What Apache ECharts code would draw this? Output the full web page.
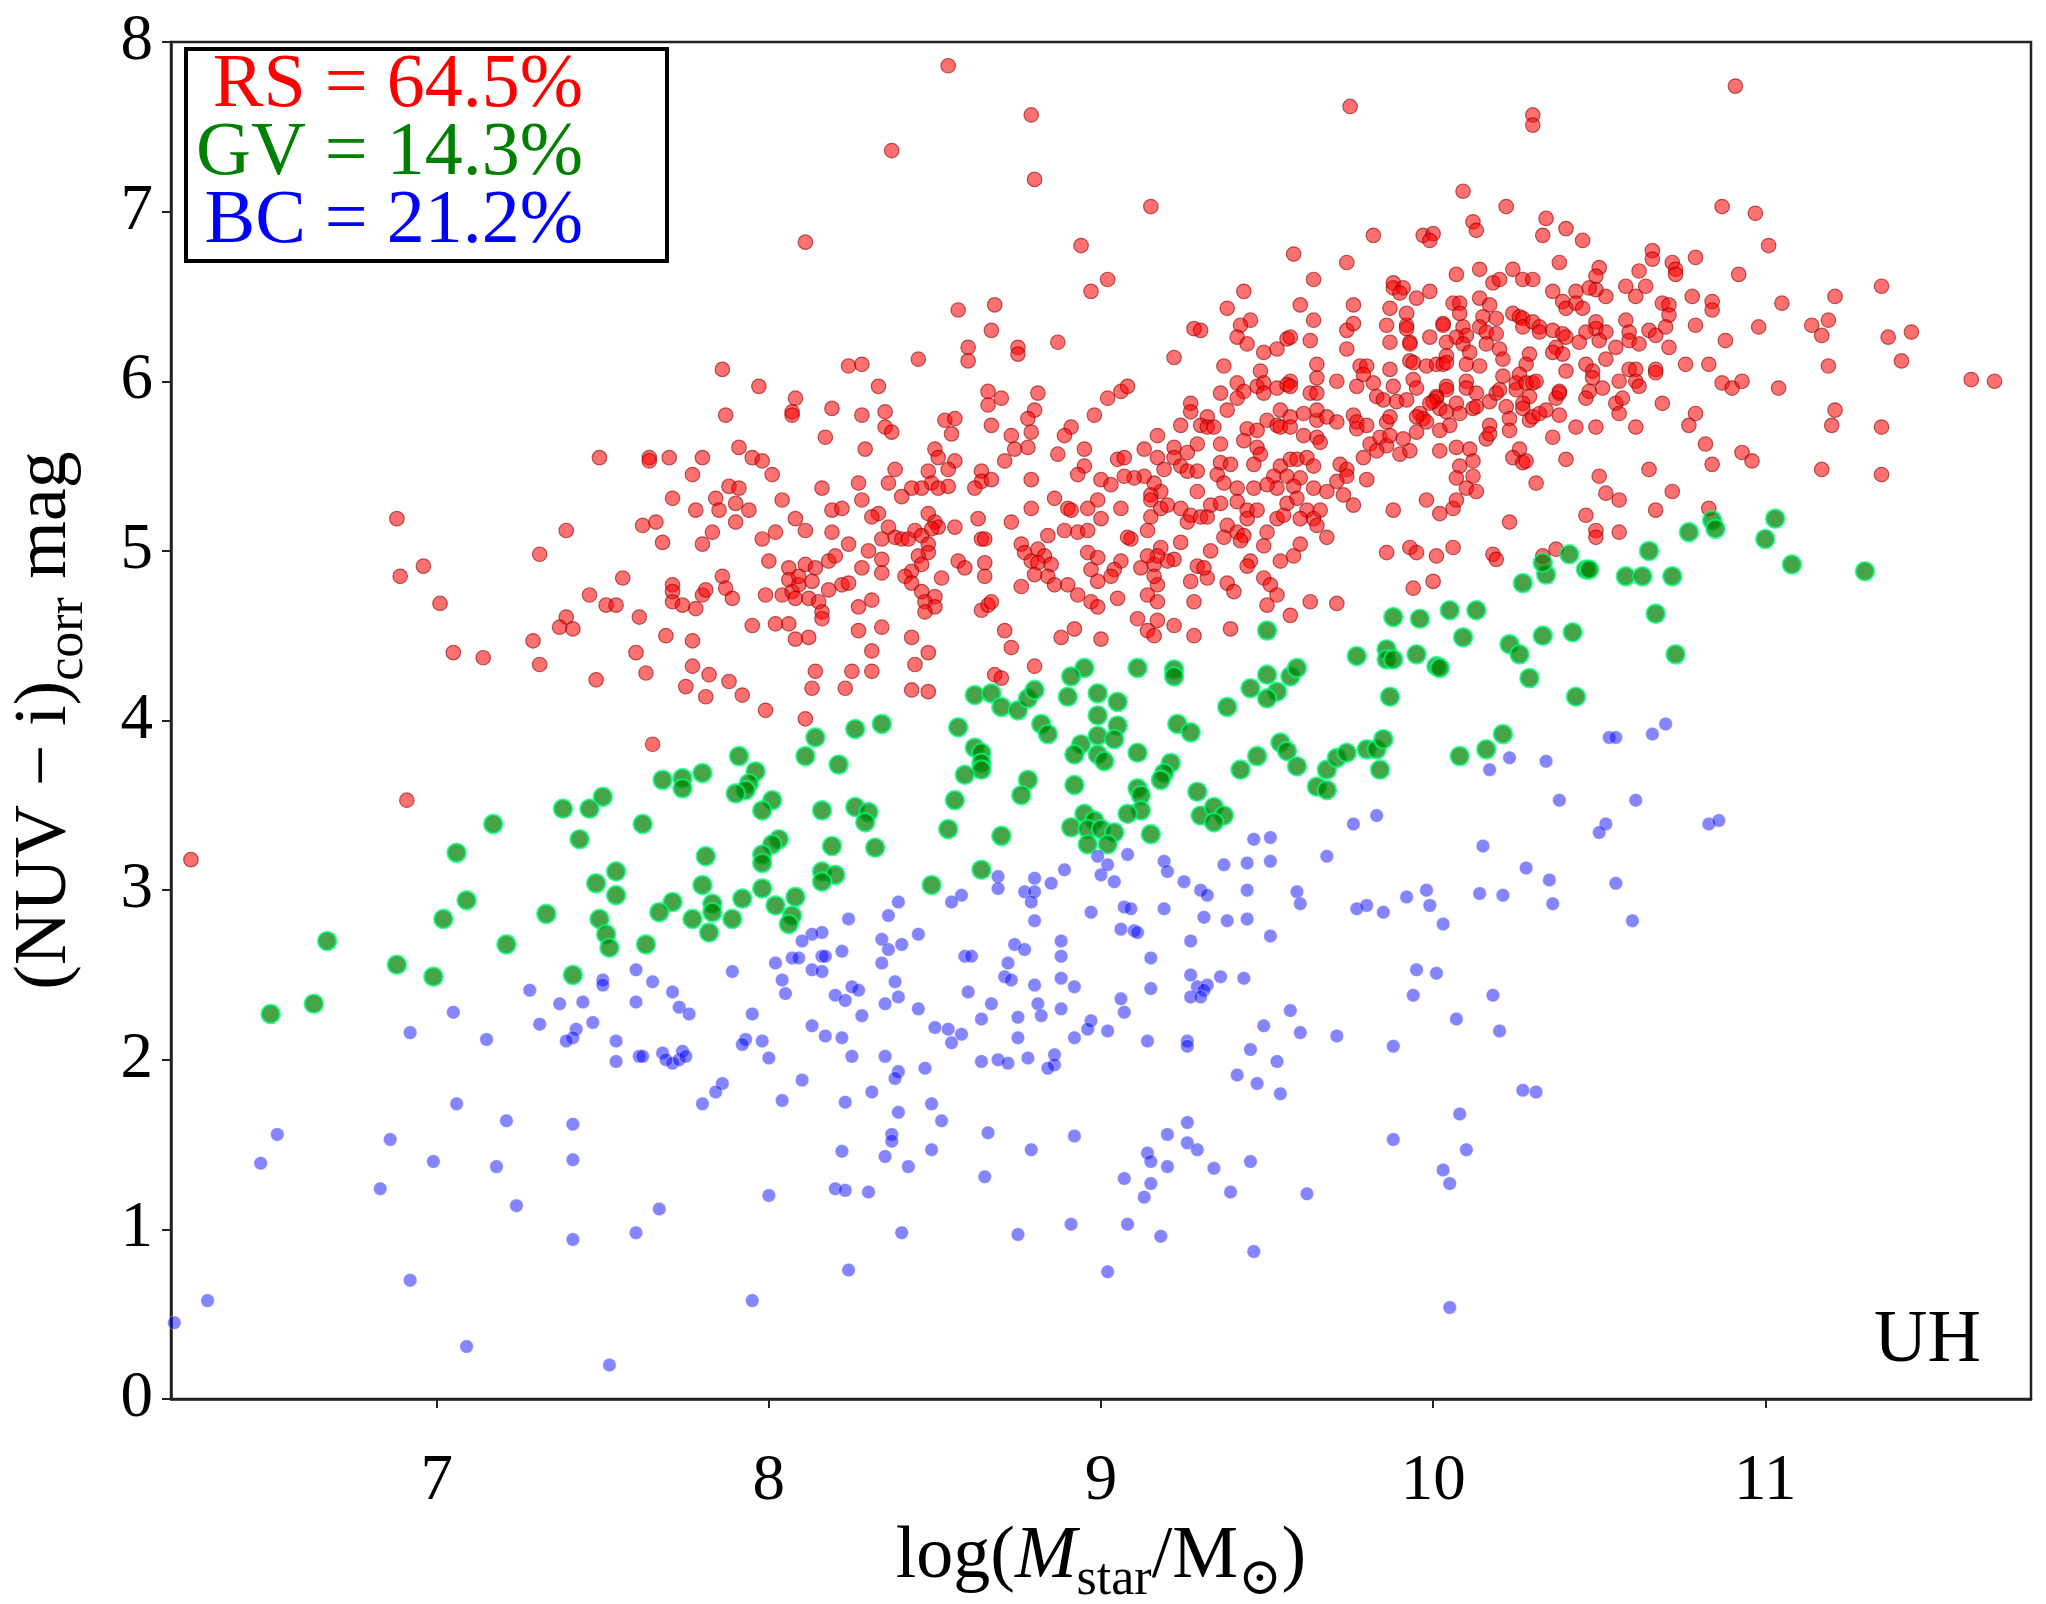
<!DOCTYPE html>
<html><head><meta charset="utf-8">
<script src="https://cdn.jsdelivr.net/npm/echarts@6/dist/echarts.min.js"></script>
<style>html,body{margin:0;padding:0;background:#fff;} #c{width:2046px;height:1604px;}</style>
</head><body><div id="c"></div>
<script>
const xTicks=[7,8,9,10,11];
const yTicks=[0,1,2,3,4,5,6,7,8];
const legendLines=['RS = 64.5%','GV = 14.3%','BC = 21.2%'];
const cornerLabel='UH';

const rsPoints=[
[7.49,5.55],
[8.54,7.86],[8.79,7.57],[8.37,7.36],[8.80,7.19],[8.11,6.82],[8.94,6.80],[8.97,6.53],[8.57,6.42],[8.68,6.45],[8.67,6.30],[8.60,6.20],[8.60,6.12],[8.75,6.20],[8.75,6.16],[8.45,6.13],[8.87,6.23],[8.24,6.09],[8.28,6.10],[7.86,6.07],[7.97,5.97],[7.87,5.80],[8.08,5.90],[8.07,5.82],[8.07,5.80],[8.19,5.84],[8.33,5.97],[8.35,5.82],[8.28,5.80],[8.35,5.73],[8.37,5.70],[8.17,5.67],[8.29,5.60],[8.53,5.77],[8.56,5.78],[8.55,5.69],[8.66,5.94],[8.70,5.90],[8.66,5.86],[8.67,5.74],[8.81,5.93],[8.80,5.83],[8.78,5.78],[8.79,5.70],[8.73,5.68],[8.74,5.60],[8.78,5.61],[8.91,5.73],[8.89,5.68],[8.98,5.80],[8.95,5.60],[8.87,5.57],[8.95,5.50],[8.93,5.45],[9.00,5.42],[8.79,5.42],[8.71,5.53],[8.64,5.47],[8.64,5.41],[8.67,5.42],[8.62,5.37],[8.50,5.60],[8.51,5.55],[8.56,5.53],[8.54,5.48],[8.48,5.47],[8.38,5.48],[8.36,5.40],[8.27,5.40],[8.16,5.37],[7.91,5.61],[7.95,5.55],[7.98,5.53],[8.01,5.45],[7.80,5.55],[7.77,5.45],[7.70,5.55],[7.64,5.55],[7.64,5.53],[7.88,5.38],[7.91,5.37],[8.49,5.40],[8.54,5.38],[8.51,5.37],[8.46,5.37],[8.43,5.37],
[9.75,7.62],[10.30,7.57],[10.30,7.51],[9.15,7.03],[10.09,7.12],[10.22,7.03],[10.12,6.94],[10.13,6.89],[10.34,6.96],[10.33,6.86],[10.40,6.90],[9.82,6.86],[9.97,6.86],[10.00,6.87],[9.99,6.83],[9.58,6.75],[9.74,6.70],[9.64,6.60],[10.38,6.70],[10.07,6.63],[10.14,6.66],[10.24,6.66],[10.18,6.58],[10.20,6.60],[10.27,6.60],[10.30,6.60],[10.36,6.53],[10.39,6.47],[10.40,6.43],[9.02,6.60],[9.43,6.53],[9.88,6.58],[9.88,6.55],[9.91,6.55],[9.90,6.52],[9.95,6.49],[9.99,6.53],[9.38,6.43],[9.60,6.45],[9.76,6.45],[9.45,6.36],[9.42,6.33],[9.41,6.26],[9.44,6.22],[9.28,6.31],[9.30,6.30],[9.56,6.25],[9.57,6.26],[9.53,6.19],[9.49,6.17],[9.63,6.24],[9.64,6.36],[9.74,6.30],[9.76,6.34],[9.74,6.19],[9.87,6.43],[9.86,6.33],[9.87,6.23],[9.92,6.40],[9.92,6.33],[9.92,6.31],[9.93,6.23],[9.93,6.22],[9.99,6.26],[10.03,6.34],[10.03,6.33],[10.06,6.46],[10.08,6.46],[10.08,6.40],[10.09,6.32],[10.10,6.27],[10.07,6.26],[10.04,6.23],[10.09,6.22],[10.11,6.17],[10.14,6.49],[10.17,6.45],[10.15,6.38],[10.19,6.37],[10.14,6.32],[10.16,6.29],[10.19,6.28],[10.16,6.22],[10.20,6.19],[10.21,6.13],[10.24,6.40],[10.26,6.38],[10.27,6.37],[10.27,6.32],[10.30,6.35],[10.32,6.32],[10.32,6.29],[10.29,6.16],[10.28,6.10],[10.36,6.30],[10.39,6.28],[10.40,6.26],[10.37,6.20],[10.36,6.17],[10.39,6.16],[10.40,6.06],[9.22,6.14],[9.37,6.09],[9.48,6.06],[9.41,5.99],[9.43,5.94],[9.36,5.93],[9.41,5.90],[9.38,5.83],[9.47,5.97],[9.49,5.99],[9.49,5.93],[9.53,5.96],[9.57,6.00],[9.56,5.98],[9.57,5.97],[9.65,6.02],[9.65,6.10],[9.63,5.93],[9.65,5.93],[9.71,6.00],[9.77,5.97],[9.78,6.09],[9.80,6.09],[9.79,6.04],[9.82,5.99],[9.87,6.07],[9.88,5.97],[9.83,5.91],[9.85,5.89],[9.89,5.88],[9.92,5.89],[9.93,6.12],[9.94,6.11],[9.98,6.09],[9.94,6.01],[9.95,5.96],[10.01,6.10],[10.03,6.10],[10.04,6.15],[10.04,6.11],[10.10,6.10],[10.14,6.09],[10.10,6.00],[10.10,5.96],[10.13,5.93],[10.04,5.97],[10.04,5.95],[10.01,5.91],[10.01,5.90],[10.00,5.88],[10.02,5.84],[10.04,5.82],[10.07,5.87],[10.08,5.81],[9.99,5.87],[9.96,5.81],[9.97,5.78],[9.98,5.76],[9.95,5.79],[10.05,5.74],[10.02,5.71],[10.02,5.59],[10.07,5.61],[10.11,5.60],[10.08,5.50],[10.12,5.53],[10.07,5.43],[10.12,5.44],[10.10,5.37],[10.13,5.35],[10.12,5.84],[10.13,5.85],[10.17,5.88],[10.19,5.93],[10.21,6.03],[10.20,5.95],[10.22,5.85],[10.23,5.78],[10.23,5.71],[10.17,5.74],[10.16,5.66],[10.17,5.69],[10.25,5.99],[10.25,5.95],[10.26,6.04],[10.28,5.99],[10.30,5.99],[10.31,6.00],[10.29,5.91],[10.27,5.87],[10.27,5.84],[10.29,5.77],[10.30,5.79],[10.32,5.81],[10.34,5.83],[10.38,5.80],[10.38,5.93],[10.37,5.90],[10.38,5.94],[10.36,5.67],[10.26,5.60],[10.24,5.55],[10.27,5.52],[10.28,5.53],[10.31,5.40],[10.40,5.54],
[9.02,5.90],[9.06,5.94],[9.08,5.97],[9.17,5.68],[9.24,5.74],[9.27,5.87],[9.27,5.82],[9.32,5.79],[9.30,5.74],[9.32,5.73],[9.34,5.73],[9.13,5.60],[9.17,5.55],[9.19,5.48],[9.22,5.61],[9.22,5.55],[9.26,5.58],[9.29,5.63],[9.24,5.50],[9.26,5.47],[9.29,5.47],[9.36,5.63],[9.36,5.52],[9.39,5.51],[9.35,5.45],[9.37,5.40],[9.41,5.37],[9.29,5.35],[9.18,5.35],[9.15,5.33],[9.16,5.40],[9.13,5.44],[9.10,5.43],[9.07,5.44],[9.05,5.54],[9.07,5.55],[9.03,5.39],[9.44,5.72],[9.43,5.65],[9.47,5.71],[9.47,5.61],[9.48,5.57],[9.46,5.51],[9.54,5.83],[9.50,5.77],[9.53,5.74],[9.54,5.73],[9.57,5.79],[9.57,5.73],[9.61,5.81],[9.65,5.77],[9.65,5.83],[9.68,5.79],[9.61,5.68],[9.65,5.67],[9.66,5.64],[9.54,5.50],[9.52,5.44],[9.56,5.44],[9.57,5.54],[9.59,5.54],[9.62,5.55],[9.64,5.50],[9.60,5.43],[9.64,5.37],[9.58,5.38],[9.53,5.37],[9.46,5.37],[9.50,5.39],[9.71,5.76],[9.76,5.80],[9.77,5.76],[9.77,5.72],[9.72,5.51],[9.74,5.48],[9.74,5.44],[9.71,5.41],[9.79,5.55],[9.80,5.42],[9.81,5.63],[9.80,5.74],[9.84,5.67],[9.86,5.62],[9.87,5.68],[9.86,5.76],[9.87,5.79],[9.83,5.59],[9.90,5.57],[9.91,5.66],[9.93,5.59],[9.95,5.70],[9.73,5.33],[9.68,5.35],
[10.91,7.74],[10.87,7.03],[10.97,6.99],[11.01,6.80],[10.79,6.73],[10.92,6.63],[10.66,6.77],[10.66,6.72],[10.72,6.70],[10.73,6.66],[10.73,6.63],[10.62,6.65],[10.50,6.67],[10.49,6.62],[10.45,6.83],[10.64,6.56],[10.58,6.56],[10.61,6.50],[10.52,6.50],[10.49,6.54],[10.47,6.55],[10.43,6.53],[10.43,6.46],[10.45,6.43],[10.78,6.50],[10.84,6.47],[10.84,6.42],[10.69,6.46],[10.71,6.45],[10.71,6.39],[10.58,6.36],[10.49,6.35],[10.49,6.31],[10.52,6.29],[10.46,6.29],[10.59,6.29],[10.59,6.24],[10.65,6.30],[10.67,6.27],[10.70,6.32],[10.50,6.24],[10.44,6.23],[10.55,6.20],[10.62,6.22],[10.71,6.20],[10.79,6.33],[10.88,6.24],[10.98,6.32],[11.05,6.46],[11.21,6.50],[11.35,6.56],[11.14,6.33],[11.19,6.36],[11.17,6.27],[11.37,6.26],[11.44,6.29],[11.41,6.12],[11.19,6.09],[11.62,6.01],[11.69,6.00],[10.52,6.13],[10.46,6.10],[10.48,6.06],[10.48,6.02],[10.59,6.07],[10.61,6.07],[10.67,6.07],[10.67,6.05],[10.76,6.10],[10.83,6.10],[10.56,6.00],[10.61,6.00],[10.62,5.97],[10.51,5.96],[10.47,5.94],[10.46,5.90],[10.55,5.87],[10.57,5.90],[10.56,5.81],[10.69,5.87],[10.87,5.99],[10.90,5.96],[10.93,6.00],[11.04,5.96],[11.21,5.83],[11.20,5.74],[11.35,5.73],[10.79,5.81],[10.77,5.74],[10.43,5.73],[10.49,5.73],[10.61,5.73],[10.82,5.63],[10.93,5.58],[10.96,5.53],[10.84,5.51],[10.65,5.48],[10.50,5.44],[11.17,5.48],[11.35,5.45],[10.52,5.34],[10.72,5.35],
[6.88,5.19],[7.39,5.12],[7.31,4.98],[6.89,4.85],[6.96,4.91],[7.01,4.69],[7.05,4.40],[7.14,4.37],[7.29,4.47],[7.31,4.33],[7.48,4.24],[7.56,4.84],[7.46,4.74],[7.51,4.68],[7.54,4.68],[7.39,4.61],[7.37,4.55],[7.41,4.54],[6.91,3.53],[6.26,3.18],
[7.71,5.31],[7.84,5.31],[8.04,5.30],[8.28,5.30],[8.40,5.32],[8.86,5.31],[8.99,5.30],[7.78,5.24],[7.85,5.24],[7.90,5.28],[7.94,5.24],[7.62,5.15],[7.66,5.17],[7.68,5.05],[7.80,5.04],[7.83,5.11],[7.90,5.17],[7.98,5.07],[8.02,5.11],[8.08,5.19],[8.11,5.12],[8.19,5.24],[8.22,5.25],[8.19,5.11],[8.24,5.04],[8.33,5.22],[8.31,5.20],[8.36,5.14],[8.34,5.07],[8.38,5.08],[8.40,5.07],[8.42,5.07],[8.44,5.12],[8.46,5.09],[8.48,5.22],[8.50,5.17],[8.51,5.14],[8.49,5.13],[8.56,5.14],[8.48,5.04],[8.48,4.99],[8.45,4.97],[8.46,4.92],[8.43,4.88],[8.41,4.85],[8.43,4.81],[8.52,4.84],[8.46,4.76],[8.50,4.73],[8.47,4.70],[8.50,4.67],[8.47,4.64],[8.63,5.19],[8.73,5.17],[8.79,5.25],[8.84,5.09],[8.89,5.12],[8.93,5.11],[8.96,5.12],[8.90,5.25],[8.91,5.24],[8.96,5.25],[9.00,5.19],[8.64,5.07],[8.65,5.07],[8.76,5.04],[8.77,4.99],[8.81,5.01],[8.83,4.97],[8.79,4.94],[8.81,4.93],[8.85,4.92],[8.84,4.85],[8.86,4.80],[8.80,4.86],[8.76,4.79],[8.90,4.80],[8.93,4.74],[8.97,4.70],[8.99,4.67],[8.96,4.99],[8.97,4.89],[8.99,4.96],[8.99,4.82],[8.57,4.94],[8.59,4.90],[8.65,4.93],[8.65,4.85],[8.64,4.65],[8.66,4.68],[8.67,4.70],[8.71,4.53],[8.73,4.43],[8.88,4.49],[8.92,4.54],[9.00,4.48],[8.80,4.32],[8.68,4.27],[8.70,4.25],[7.71,4.80],[7.71,4.76],[7.71,4.70],[7.74,4.68],[7.78,4.66],[7.80,4.74],[7.81,4.77],[7.86,4.85],[7.87,4.78],[7.89,4.72],[7.61,4.61],[7.60,4.40],[7.69,4.50],[7.77,4.47],[7.63,4.28],[7.77,4.32],[7.82,4.27],[7.75,4.20],[7.81,4.14],[7.88,4.23],[7.92,4.15],[7.99,4.06],[7.65,3.86],[7.95,4.56],[8.00,4.94],[7.99,4.74],[8.04,4.74],[8.06,4.90],[8.06,4.83],[8.07,4.76],[8.09,4.80],[8.08,4.72],[8.09,4.85],[8.11,4.92],[8.14,4.90],[8.13,4.82],[8.12,4.72],[8.15,4.70],[8.16,4.64],[8.16,4.60],[8.18,4.77],[8.18,4.94],[8.20,4.97],[8.22,4.80],[8.24,4.81],[8.27,4.67],[8.31,4.71],[8.28,4.90],[8.30,5.00],[8.34,4.95],[8.34,4.87],[8.02,4.57],[8.06,4.57],[8.08,4.48],[8.12,4.49],[8.27,4.53],[8.34,4.55],[8.43,4.49],[8.31,4.41],[8.48,4.40],[8.44,4.33],[8.14,4.29],[8.25,4.29],[8.31,4.29],[8.13,4.19],[8.23,4.19],[8.43,4.18],[8.48,4.17],[8.11,4.01],
[9.88,5.24],[10.23,5.17],[9.98,5.30],[10.02,5.22],[10.06,5.25],[10.07,5.30],[9.86,4.99],[9.93,5.02],[9.95,4.99],[10.01,4.97],[10.06,5.02],[10.18,4.98],[10.19,4.95],[9.94,4.78],[10.00,4.82],[10.33,4.97],[10.37,5.01],
[9.06,5.25],[9.15,5.30],[9.15,5.20],[9.18,5.25],[9.20,5.27],[9.24,5.25],[9.26,5.17],[9.27,5.21],[9.30,5.20],[9.32,5.20],[9.33,5.27],[9.36,5.28],[9.41,5.29],[9.44,5.24],[9.44,5.19],[9.47,5.24],[9.38,5.15],[9.37,5.08],[9.41,5.11],[9.43,5.09],[9.42,5.06],[9.50,5.11],[9.49,5.03],[9.53,5.19],[9.55,5.21],[9.56,5.28],[9.59,5.31],[9.62,5.24],[9.60,5.19],[9.64,5.19],[9.65,5.15],[9.66,5.24],[9.68,5.08],[9.60,5.04],[9.58,4.97],[9.54,4.94],[9.45,4.94],[9.44,4.91],[9.33,5.00],[9.24,5.05],[9.22,4.95],[9.20,4.94],[9.18,5.02],[9.16,4.92],[9.17,4.97],[9.14,4.97],[9.14,5.12],[9.12,4.90],[9.09,5.07],[9.08,5.08],[9.06,4.94],[9.04,4.89],[9.03,4.85],[9.05,4.72],[9.11,4.60],[9.14,4.53],[9.16,4.50],[9.17,4.59],[9.22,4.56],[9.28,4.50],[9.39,4.54],[9.14,4.74],[9.17,4.70],[9.17,4.80],[9.16,4.85],[9.27,4.82],[9.32,4.84],[9.29,4.91],[9.31,4.90],[9.28,4.70],[9.38,4.81],[9.40,4.76],[9.49,4.84],[9.51,4.80],[9.53,4.74],[9.50,4.68],[9.57,4.62],[9.63,4.70],[9.71,4.69],[9.76,5.27],
[10.56,5.30],[10.67,5.24],[10.83,5.25],[10.46,5.21],[10.49,5.12],[10.49,5.08],[10.56,5.11]
];

const gvPoints=[
[7.50,3.55],[7.38,3.48],[7.46,3.48],[7.17,3.39],[7.43,3.30],[7.06,3.22],[7.54,3.11],[7.48,3.04],[7.54,2.97],[7.09,2.94],[7.02,2.83],[7.33,2.86],[7.49,2.83],[7.51,2.74],[7.52,2.66],[6.67,2.70],[7.21,2.68],
[6.88,2.56],[6.99,2.49],[6.50,2.27],[6.63,2.33],[7.41,2.50],
[8.95,4.31],[8.91,4.26],[8.90,4.14],[8.99,4.16],[8.62,4.15],[8.67,4.16],[8.70,4.08],[8.75,4.06],[8.78,4.13],[8.80,4.18],[8.99,4.03],[8.82,3.98],[8.84,3.92],[8.57,3.96],[8.62,3.84],[8.64,3.81],[8.64,3.75],[8.64,3.71],[8.59,3.68],[8.94,3.86],[8.92,3.80],[8.99,3.91],[8.99,3.80],[8.78,3.65],[8.76,3.56],[8.92,3.62],[8.56,3.53],[8.54,3.36],[8.70,3.32],[8.95,3.45],[8.98,3.41],[8.91,3.37],[8.96,3.36],[9.00,3.36],[8.96,3.27],[8.64,3.12],[8.49,3.03],[8.14,3.90],[8.26,3.95],[8.34,3.98],[8.11,3.79],[8.21,3.74],[7.91,3.79],[7.96,3.70],[7.94,3.63],[7.93,3.59],[7.90,3.57],[8.01,3.53],[7.98,3.47],[7.68,3.65],[7.74,3.66],[7.74,3.60],[7.80,3.69],[7.62,3.39],[8.16,3.47],[8.26,3.49],[8.30,3.46],[8.29,3.40],[8.19,3.26],[8.32,3.25],[7.81,3.20],[7.80,3.03],[8.03,3.30],[8.01,3.27],[7.98,3.21],[7.98,3.16],[7.98,3.01],[7.92,2.95],[8.08,2.96],[8.02,2.91],[8.07,2.85],[8.06,2.80],[8.16,3.11],[8.20,3.09],[8.16,3.05],[7.83,2.92],[7.83,2.87],[7.82,2.75],[7.77,2.83],[7.71,2.93],[7.67,2.87],[7.89,2.83],[7.63,2.68],
[9.50,4.53],[9.11,4.31],[9.22,4.30],[9.22,4.26],[9.45,4.19],[9.50,4.27],[9.53,4.17],[9.57,4.26],[9.59,4.31],[9.50,4.13],[9.38,4.08],[9.05,4.11],[9.05,3.97],[9.04,3.89],[9.01,3.76],[9.11,3.81],[9.23,3.98],[9.27,3.93],[9.21,3.75],[9.19,3.69],[9.18,3.65],[9.11,3.60],[9.12,3.56],[9.12,3.47],[9.08,3.45],[9.15,3.33],[9.04,3.34],[9.02,3.27],[9.29,3.58],[9.30,3.44],[9.34,3.49],[9.37,3.44],[9.34,3.40],[9.42,3.71],[9.47,3.79],[9.54,3.87],[9.56,3.82],[9.59,3.73],[9.68,3.71],[9.65,3.61],[9.68,3.59],[9.71,3.78],[9.74,3.81],[9.80,3.83],[9.83,3.83],[9.85,3.89],[9.84,3.71],[9.77,4.38],[9.86,4.42],[9.86,4.36],[9.88,4.36],[9.95,4.39],[10.01,4.32],[10.02,4.31],[9.87,4.14],[9.88,4.61],[9.96,4.60],[10.05,4.65],[10.13,4.65],[10.09,4.49],[10.23,4.45],[10.26,4.39],[10.29,4.25],[10.33,4.50],[10.27,4.81],[10.34,4.86],[10.33,4.93],[10.21,3.92],[10.16,3.83],[10.08,3.79],
[10.41,4.98],[10.46,4.89],[10.47,4.89],[10.58,4.85],[10.63,4.85],[10.72,4.85],[10.65,5.00],[10.77,5.11],[10.84,5.18],[10.85,5.13],[11.03,5.19],[11.00,5.07],[11.08,4.92],[11.30,4.88],[10.67,4.63],[10.42,4.52],[10.73,4.39],[10.43,4.14]
];

const bcPoints=[
[7.28,2.41],[7.37,2.33],[7.44,2.34],[7.50,2.47],[7.50,2.44],[7.60,2.53],[7.60,2.34],[7.05,2.28],[6.92,2.16],[7.15,2.12],[7.31,2.21],[7.42,2.18],[7.41,2.13],[7.39,2.11],[7.47,2.22],[7.54,2.11],[7.54,1.99],[7.61,2.02],[7.06,1.74],[7.21,1.64],[7.41,1.62],[7.41,1.41],[6.52,1.56],[6.47,1.39],[6.86,1.53],[6.99,1.40],[7.18,1.37],[6.83,1.24],[7.24,1.14],[7.41,0.94],[7.60,0.98],[6.92,0.70],[6.31,0.58],[6.21,0.45],[7.09,0.31],[7.52,0.20],
[8.69,3.08],[8.69,3.01],[8.80,3.07],[8.85,3.04],[8.89,3.12],[8.77,2.99],[8.80,2.99],[8.79,2.93],[8.80,2.82],[8.97,2.87],[8.99,3.20],[9.00,3.09],[8.58,2.97],[8.55,2.93],[8.39,2.93],[8.36,2.85],[8.24,2.83],[8.45,2.74],[8.34,2.71],[8.40,2.68],[8.16,2.75],[8.13,2.74],[8.10,2.70],[8.74,2.68],[8.88,2.70],
[10.17,3.71],[10.23,3.78],[10.34,3.76],[10.38,3.53],[9.83,3.44],[9.76,3.39],[10.15,3.26],[9.68,3.20],[9.46,3.30],[9.51,3.31],[9.44,3.16],[9.51,3.17],[9.37,3.15],[9.19,3.17],[9.08,3.21],[9.02,3.15],[9.04,3.05],[9.20,3.11],[9.25,3.05],[9.30,3.00],[9.32,2.97],[9.44,3.00],[9.59,2.99],[9.60,2.92],[9.07,2.90],[9.09,2.89],[9.19,2.89],[9.31,2.84],[9.38,2.82],[9.44,2.83],[9.06,2.77],[9.10,2.76],[9.11,2.75],[9.27,2.70],[9.51,2.73],[9.77,2.89],[9.80,2.91],[9.85,2.87],[9.92,2.96],[9.98,3.00],[9.99,2.91],[10.03,2.80],[10.14,2.98],[10.21,2.97],[10.28,3.13],[10.35,3.06],[10.36,2.92],
[10.53,3.90],[10.55,3.90],[10.66,3.92],[10.70,3.98],[10.61,3.53],[10.52,3.39],[10.50,3.34],[10.83,3.39],[10.86,3.41],[10.55,3.04],[10.60,2.82],
[7.89,2.52],[7.65,2.46],[7.71,2.40],[7.73,2.31],[7.76,2.27],[7.95,2.27],[8.02,2.57],[8.07,2.60],[8.09,2.60],[8.04,2.47],[8.05,2.39],[8.13,2.53],[8.16,2.52],[8.16,2.61],[8.17,2.61],[8.22,2.64],[8.34,2.57],[8.36,2.65],[8.38,2.46],[8.39,2.37],[8.35,2.33],[8.25,2.43],[8.27,2.41],[8.20,2.38],[8.23,2.35],[8.28,2.26],[8.13,2.20],[8.17,2.14],[8.22,2.13],[8.45,2.30],[8.50,2.19],[8.54,2.18],[8.58,2.15],[8.55,2.10],[8.60,2.40],[8.59,2.61],[8.61,2.61],[8.72,2.57],[8.71,2.49],[8.73,2.47],[8.77,2.65],[8.88,2.61],[8.88,2.48],[8.92,2.43],[8.80,2.44],[8.81,2.33],[8.82,2.26],[8.88,2.30],[8.67,2.33],[8.64,2.24],[8.75,2.25],[8.75,2.13],[8.92,2.13],[8.97,2.23],[8.96,2.18],[7.62,2.02],[7.68,2.04],[7.69,2.00],[7.71,1.98],[7.73,2.00],[7.74,2.05],[7.75,2.02],[7.93,2.12],[7.92,2.09],[7.98,2.11],[8.00,2.01],[8.25,2.02],[8.35,2.02],[8.39,1.93],[8.38,1.89],[8.47,1.95],[8.64,1.99],[8.69,2.00],[8.72,1.98],[8.78,2.01],[8.86,2.03],[8.86,1.97],[8.84,1.95],[7.86,1.86],[7.84,1.81],[7.80,1.74],[8.10,1.88],[8.04,1.76],[8.31,1.81],[8.23,1.75],[8.39,1.69],[8.49,1.74],[8.52,1.64],[8.66,1.57],[8.92,1.55],[8.79,1.47],[8.49,1.47],[8.37,1.56],[8.37,1.52],[8.35,1.43],[8.42,1.37],[8.22,1.46],[8.65,1.31],[8.20,1.24],[8.23,1.23],[8.30,1.22],[8.00,1.20],[7.67,1.12],[8.40,0.98],[8.75,0.97],[8.91,1.03],[8.24,0.76],[7.95,0.58],[9.02,0.75],
[9.15,2.60],[9.27,2.50],[9.29,2.43],[9.32,2.44],[9.31,2.41],[9.27,2.37],[9.30,2.37],[9.36,2.49],[9.43,2.48],[9.15,2.42],[9.06,2.36],[9.07,2.28],[9.02,2.17],[9.14,2.11],[9.26,2.11],[9.26,2.08],[9.45,2.06],[9.49,2.20],[9.57,2.29],[9.60,2.16],[9.71,2.14],[9.53,1.99],[9.41,1.91],[9.47,1.86],[9.54,1.80],[9.88,2.08],[9.95,2.53],[10.01,2.51],[9.94,2.38],[10.18,2.38],[10.07,2.24],[10.20,2.17],[10.27,1.82],[10.31,1.81],[10.08,1.68],[9.88,1.53],[10.10,1.47],[10.03,1.35],[10.05,1.27],[10.05,0.54],[9.26,1.63],[9.20,1.56],[9.26,1.51],[9.29,1.47],[9.14,1.45],[9.15,1.40],[9.20,1.37],[9.34,1.36],[9.45,1.40],[9.07,1.30],[9.15,1.27],[9.13,1.19],[9.39,1.22],[9.62,1.21],[9.08,1.03],[9.18,0.96],[9.46,0.87]
];

const FONT="'Liberation Serif','DejaVu Serif',serif";
const chart=echarts.init(document.getElementById('c'),null,{renderer:'canvas'});
const richMain={fontFamily:FONT,fontSize:74,lineHeight:96,color:'#000',verticalAlign:'middle'};
const richSub={fontFamily:FONT,fontSize:52,lineHeight:58,verticalAlign:'bottom',color:'#000'};
const option={
  animation:false,
  backgroundColor:'#ffffff',
  grid:{left:171,right:15,top:42,bottom:205,containLabel:false,outerBoundsMode:'none',show:true,borderColor:'#222',borderWidth:2.5,backgroundColor:'transparent'},
  xAxis:{
    type:'value',min:6.2,max:11.8,
    axisLine:{show:true,lineStyle:{color:'#222',width:2.5}},
    axisTick:{show:true,inside:false,length:9,lineStyle:{color:'#222',width:2},customValues:xTicks},
    axisLabel:{customValues:xTicks,fontFamily:FONT,fontSize:65,color:'#000',margin:50},
    splitLine:{show:false},
    name:'{n|log(}{i|M}{s|star}{n|/M}{s|⊙}{n|)}',
    nameLocation:'middle',nameGap:111,
    nameTextStyle:{fontFamily:FONT,fontSize:74,color:'#000',rich:{
      n:richMain,
      i:Object.assign({},richMain,{fontStyle:'italic'}),
      s:richSub
    }}
  },
  yAxis:{
    type:'value',min:0,max:8,interval:1,
    axisLine:{show:true,lineStyle:{color:'#222',width:2.5}},
    axisTick:{show:true,inside:false,length:9,lineStyle:{color:'#222',width:2},customValues:yTicks},
    axisLabel:{customValues:yTicks,fontFamily:FONT,fontSize:65,color:'#000',margin:18},
    splitLine:{show:false},
    name:'{n|(NUV − i)}{s|corr}{n| mag}',
    nameLocation:'middle',nameGap:77,nameRotate:90,
    nameTextStyle:{fontFamily:FONT,fontSize:74,color:'#000',rich:{
      n:richMain,
      s:richSub
    }}
  },
  series:[
    {type:'scatter',name:'RS',data:rsPoints,symbol:'circle',symbolSize:14.5,z:2,
     itemStyle:{color:'rgba(255,0,0,0.7)',borderColor:'rgba(139,0,0,0.75)',borderWidth:1.2}},
    {type:'scatter',name:'GV',data:gvPoints,symbol:'circle',symbolSize:18.5,z:3,
     itemStyle:{color:'rgba(0,128,0,0.9)',borderColor:'rgba(0,255,127,0.9)',borderWidth:2.2}},
    {type:'scatter',name:'BC',data:bcPoints,symbol:'circle',symbolSize:13.5,z:4,
     itemStyle:{color:'rgba(0,0,255,0.6)',borderColor:'rgba(255,255,255,0.5)',borderWidth:0.8}}
  ],
  graphic:[
    {type:'rect',z:100,shape:{x:186,y:49,width:481,height:212},style:{fill:'#fff',stroke:'#000',lineWidth:4}},
    {type:'text',z:101,x:583,y:86,style:{text:legendLines[0],fill:'#ff0000',font:"76px 'Liberation Serif'",textAlign:'right',textVerticalAlign:'middle',align:'right',verticalAlign:'middle'}},
    {type:'text',z:101,x:583,y:154,style:{text:legendLines[1],fill:'#008000',font:"76px 'Liberation Serif'",textAlign:'right',textVerticalAlign:'middle',align:'right',verticalAlign:'middle'}},
    {type:'text',z:101,x:583,y:222,style:{text:legendLines[2],fill:'#0000ff',font:"76px 'Liberation Serif'",textAlign:'right',textVerticalAlign:'middle',align:'right',verticalAlign:'middle'}},
    {type:'text',z:101,x:1981,y:1342,style:{text:cornerLabel,fill:'#000',font:"74px 'Liberation Serif'",textAlign:'right',textVerticalAlign:'middle',align:'right',verticalAlign:'middle'}}
  ]
};
chart.setOption(option);
</script>
</body></html>
